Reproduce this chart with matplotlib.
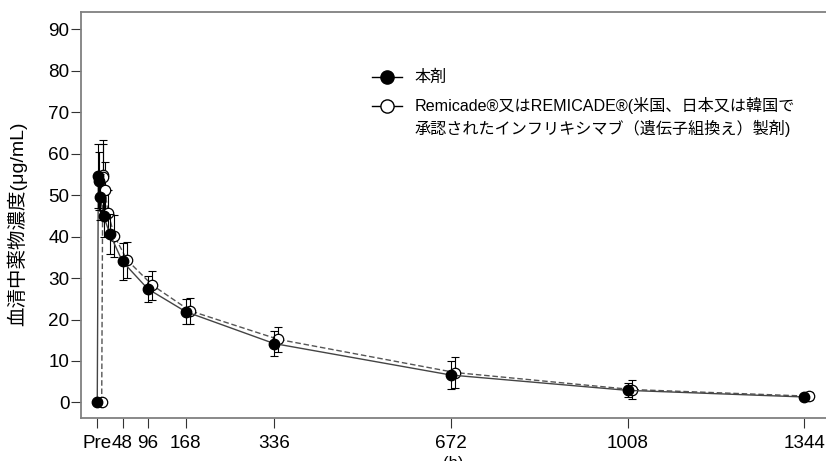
import matplotlib.pyplot as plt
from matplotlib.lines import Line2D
from matplotlib.transforms import offset_copy

plt.rcParams["font.family"] = ["Liberation Sans", "Noto Sans CJK JP"]

# sampling times (h), "Pre" is plotted at 0
hours = [0, 2, 3, 6, 12, 24, 48, 96, 168, 336, 672, 1008, 1344]
tick_hours = [0, 48, 96, 168, 336, 672, 1008, 1344]
tick_labels = ["Pre", "48", "96", "168", "336", "672", "1008", "1344"]
y_ticks = [0, 10, 20, 30, 40, 50, 60, 70, 80, 90]

# 本剤 (mean, SD)
test_mean = [0, 54.7, 53.5, 49.5, 45.0, 40.6, 34.0, 27.4, 21.9, 14.2, 6.6, 2.9, 1.3]
test_sd = [0, 7.7, 7.0, 5.5, 5.0, 4.8, 4.5, 3.2, 3.1, 3.1, 3.4, 1.7, 0.8]

# Remicade / REMICADE (mean, SD)
ref_mean = [0, 54.9, 54.3, 51.3, 45.8, 40.2, 34.4, 28.3, 22.1, 15.2, 7.2, 3.1, 1.5]
ref_sd = [0, 8.5, 8.0, 6.8, 5.5, 5.0, 4.4, 3.5, 3.1, 3.1, 3.8, 2.2, 0.9]

test_label = "本剤"
ref_label = "Remicade®又はREMICADE®(米国、日本又は韓国で"
ref_label_cont = "承認されたインフリキシマブ（遺伝子組換え）製剤)"

fig = plt.figure(figsize=(8.26, 4.61), dpi=100)
ax = fig.add_axes([0.098, 0.093, 0.902, 0.88])

# reference product is drawn slightly to the right so the points don't overlap
shifted = offset_copy(ax.transData, fig=fig, x=3.2, y=0, units="points")

ax.plot(hours, ref_mean, color="#555555", lw=1, ls=(0, (4, 2)),
        transform=shifted, zorder=2)
ax.errorbar(hours, ref_mean, yerr=ref_sd, fmt="none", ecolor="black",
            elinewidth=0.8, capsize=3, capthick=0.8, transform=shifted, zorder=3)
ax.plot(hours, ref_mean, "o", ms=7.5, mfc="white", mec="black", mew=0.9,
        ls="none", transform=shifted, zorder=4)

ax.plot(hours, test_mean, color="#444444", lw=1, zorder=5)
ax.errorbar(hours, test_mean, yerr=test_sd, fmt="none", ecolor="black",
            elinewidth=0.8, capsize=3, capthick=0.8, zorder=6)
ax.plot(hours, test_mean, "o", ms=7.5, color="black", ls="none", zorder=7)

ax.set_xlim(-31, 1385)
ax.set_ylim(-3.8, 94.1)
ax.set_xticks(tick_hours, tick_labels)
ax.set_yticks(y_ticks)
ax.tick_params(direction="out", length=7.2, width=0.8, color="#333333",
               labelsize=13.6)
ax.tick_params(axis="y", pad=1)
ax.tick_params(axis="x", pad=5)

for side in ["top", "left", "bottom"]:
    ax.spines[side].set_color("#808080")
    ax.spines[side].set_linewidth(1.3)
ax.spines["right"].set_visible(False)

ax.set_ylabel("血清中薬物濃度(μg/mL)", fontsize=14)
ax.yaxis.set_label_coords(-0.072, 0.48)
ax.set_xlabel("(h)", fontsize=12, labelpad=3)

handles = [
    Line2D([], [], color="black", lw=1, marker="o", ms=9.5, mfc="black"),
    Line2D([], [], color="black", lw=1, marker="o", ms=9.5, mfc="white",
           mec="black"),
]
leg = ax.legend(handles, [test_label, ref_label], loc="upper left",
                bbox_to_anchor=(0.39, 0.858), frameon=False, fontsize=11.6,
                handlelength=1.9, handletextpad=0.75, labelspacing=0.75,
                borderpad=0, borderaxespad=0)
leg.set_zorder(8)
# second line of the reference label, hung under the legend text
ax.annotate(ref_label_cont, xy=(0, 0), xycoords=leg.get_texts()[1],
            xytext=(0, -3.5), textcoords="offset points", va="top", ha="left",
            fontsize=11.6, zorder=9)

fig.savefig("out.png", dpi=100)
